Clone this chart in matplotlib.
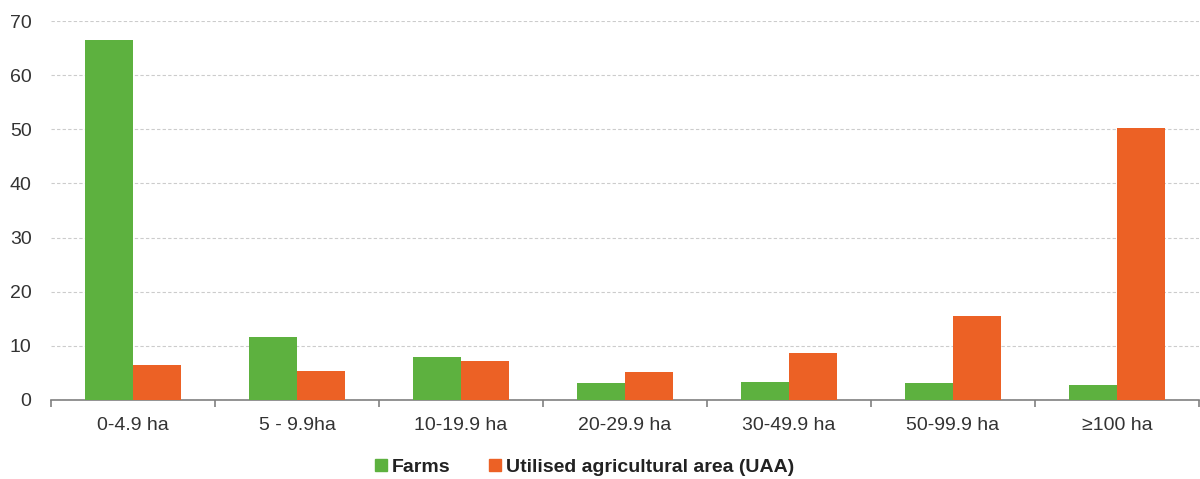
import numpy as np
import matplotlib
matplotlib.use("Agg")
import matplotlib.pyplot as plt
from matplotlib.lines import Line2D

# size classes of farms (hectares)
categories = ["0-4.9 ha", "5 - 9.9ha", "10-19.9 ha", "20-29.9 ha",
              "30-49.9 ha", "50-99.9 ha", "\u2265100 ha"]

# share of farms and of utilised agricultural area (%)
farms = [66.4, 11.6, 7.9, 3.1, 3.4, 3.1, 2.7]
uaa = [6.5, 5.4, 7.2, 5.2, 8.6, 15.6, 50.3]

series_names = ["Farms", "Utilised agricultural area (UAA)"]
series_colors = ["#5db13f", "#ec6125"]

plt.rcParams["font.family"] = ["Liberation Sans", "DejaVu Sans"]

fig = plt.figure(figsize=(12, 4.79), dpi=100)
ax = fig.add_axes([51 / 1200, 79 / 479, 1148 / 1200, 379 / 479])

x = np.arange(len(categories))
w = 0.29
ax.bar(x - w / 2, farms, width=w, color=series_colors[0], zorder=3)
ax.bar(x + w / 2, uaa, width=w, color=series_colors[1], zorder=3)

ax.set_xlim(-0.5, len(categories) - 0.5)
ax.set_ylim(0, 70)
ax.set_yticks(range(0, 71, 10))

# dashed horizontal grid
ax.yaxis.grid(True, color="#cccccc", linestyle=(0, (3, 2)), linewidth=0.8)
ax.set_axisbelow(True)

for side in ["top", "right", "left"]:
    ax.spines[side].set_visible(False)
ax.spines["bottom"].set_color("#808080")
ax.spines["bottom"].set_linewidth(1.2)

# category labels centred, tick marks between groups
ax.set_xticks(x)
ax.set_xticklabels(categories)
ax.set_xticks(np.arange(-0.5, len(categories), 1.0), minor=True)
ax.tick_params(axis="x", which="major", length=0, pad=12,
               labelsize=14, labelcolor="#333333")
ax.tick_params(axis="x", which="minor", length=5, width=1.2, color="#808080")
ax.tick_params(axis="y", length=0, pad=14, labelsize=14, labelcolor="#333333")

handles = [Line2D([0], [0], marker="s", linestyle="none", markersize=8,
                  markerfacecolor=c, markeredgecolor=c) for c in series_colors]
fig.legend(handles, series_names, loc="center", ncol=2,
           bbox_to_anchor=(583 / 1200, 12 / 479), frameon=False,
           prop={"size": 14, "weight": "bold"}, handletextpad=0.05,
           columnspacing=1.8, handlelength=1.0, labelcolor="#222222")

fig.savefig("out.png", dpi=100)
